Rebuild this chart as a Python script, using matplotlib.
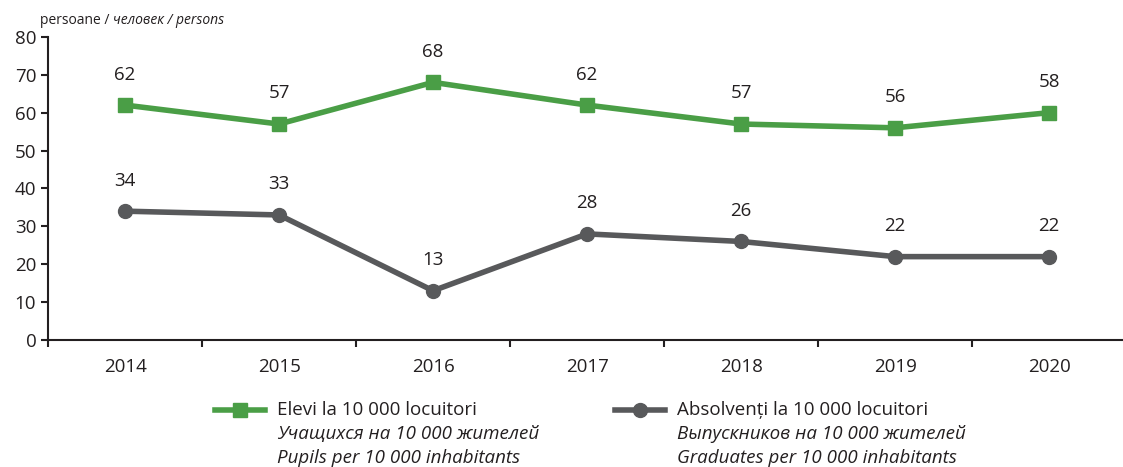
import matplotlib.pyplot as plt
from matplotlib.lines import Line2D

plt.rcParams["font.family"] = ["Open Sans", "DejaVu Sans"]

years = ["2014", "2015", "2016", "2017", "2018", "2019", "2020"]
pupils = [62, 57, 68, 62, 57, 56, 60]
pupils_labels = ["62", "57", "68", "62", "57", "56", "58"]
graduates = [34, 33, 13, 28, 26, 22, 22]
graduates_labels = ["34", "33", "13", "28", "26", "22", "22"]

GREEN = "#4a9e46"
GREY = "#58595b"
TXT = "#231f20"
FS = 13.5

fig = plt.figure(figsize=(11.23, 4.67), dpi=100)
ax = fig.add_axes([0.0428, 0.272, 0.96, 0.649])

x = range(len(years))
ax.plot(x, pupils, color=GREEN, lw=4, marker="s", ms=10, zorder=3)
ax.plot(x, graduates, color=GREY, lw=4, marker="o", ms=10, zorder=3)

for i, (v, lab) in enumerate(zip(pupils, pupils_labels)):
    ax.annotate(lab, (i, v), xytext=(0, 22), textcoords="offset points",
                ha="center", va="center", fontsize=FS, color=TXT)
for i, (v, lab) in enumerate(zip(graduates, graduates_labels)):
    ax.annotate(lab, (i, v), xytext=(0, 22), textcoords="offset points",
                ha="center", va="center", fontsize=FS, color=TXT)

ax.set_xlim(-0.5, len(years) - 0.5)
ax.set_ylim(0, 80)
ax.set_yticks(range(0, 81, 10))
ax.set_xticks(x)
ax.set_xticklabels(years)
ax.set_xticks([i + 0.5 for i in range(-1, len(years))], minor=True)
ax.tick_params(axis="x", which="major", length=0, pad=13, labelsize=FS, labelcolor=TXT)
ax.tick_params(axis="x", which="minor", length=5, width=1.5, color=TXT, direction="out")
ax.tick_params(axis="y", length=5, width=1.5, color=TXT, labelsize=FS, labelcolor=TXT)
for s in ["top", "right"]:
    ax.spines[s].set_visible(False)
for s in ["left", "bottom"]:
    ax.spines[s].set_linewidth(1.5)
    ax.spines[s].set_color(TXT)

t = fig.text(40 / 1123, 1 - 20 / 467, "persoane / ", fontsize=10, color=TXT, va="center")
fig.canvas.draw()
ax.annotate("человек / persons", xy=(1, 0.5), xycoords=t, va="center",
            fontsize=10, style="italic", color=TXT)

# legend drawn by hand
legend_items = [
    (GREEN, "s", ["Elevi la 10 000 locuitori", "Учащихся на 10 000 жителей",
                  "Pupils per 10 000 inhabitants"], 215),
    (GREY, "o", ["Absolvenți la 10 000 locuitori", "Выпускников на 10 000 жителей",
                 "Graduates per 10 000 inhabitants"], 615),
]
for color, marker, lines, x0 in legend_items:
    y0 = 1 - 410 / 467
    fig.add_artist(Line2D([x0 / 1123, (x0 + 50) / 1123], [y0, y0], color=color,
                          lw=4, transform=fig.transFigure))
    fig.add_artist(Line2D([(x0 + 25) / 1123], [y0], color=color, marker=marker,
                          ms=10, transform=fig.transFigure))
    for k, line in enumerate(lines):
        fig.text((x0 + 62) / 1123, 1 - (410 + 24 * k) / 467, line, fontsize=FS,
                 color=TXT, va="center", style="normal" if k == 0 else "italic")

fig.savefig("out.png", dpi=100)
